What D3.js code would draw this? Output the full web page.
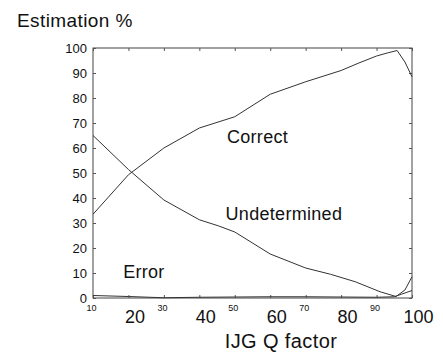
<!DOCTYPE html>
<html>
<head>
<meta charset="utf-8">
<script src="https://cdn.jsdelivr.net/npm/d3@7"></script>
<style>
  body { margin: 0; background: #fff; }
  svg { display: block; font-family: "Liberation Sans", Arial, sans-serif; }
</style>
</head>
<body>
<svg id="chart" width="443" height="354"></svg>
<script>
// values
var xTicks = [10, 20, 30, 40, 50, 60, 70, 80, 90, 100];
var yTicks = [0, 10, 20, 30, 40, 50, 60, 70, 80, 90, 100];

var correctQ = [10, 20, 30, 40, 50, 60, 70, 80, 85, 90, 93, 95.8, 98, 100];
var correctV = [33.5, 49.3, 60, 68, 72.5, 81.5, 86.5, 91, 94, 96.8, 98, 99, 94.4, 88.5];

var undetQ = [10, 20, 30, 40, 45.5, 50, 60, 70, 77, 84, 91, 95.5, 98, 100];
var undetV = [65, 51.4, 39.2, 31.3, 28.8, 26.4, 17.6, 12, 9.5, 6.5, 2.5, 0.6, 3.2, 8.5];

var errorQ = [10, 20, 30, 40, 50, 60, 70, 80, 90, 95, 97, 100];
var errorV = [1, 0.6, 0.1, 0.3, 0.4, 0.5, 0.5, 0.4, 0.3, 0.5, 1.5, 3];

// label name, anchor q, anchor value
var labels = [
  ["Correct", 47.8, 62.2],
  ["Undetermined", 47.4, 31.4],
  ["Error", 18.5, 8]
];

var margin = {top: 48, right: 31, bottom: 56, left: 93};
var width = 443 - margin.left - margin.right;
var height = 354 - margin.top - margin.bottom;

var svg = d3.select("#chart");
var g = svg.append("g")
  .attr("transform", "translate(" + margin.left + "," + margin.top + ")");

var x = d3.scaleLinear().domain([10, 100]).range([0, width]);
var y = d3.scaleLinear().domain([0, 100]).range([height, 0]);

// frame
g.append("rect")
  .attr("x", 0).attr("y", 0)
  .attr("width", width).attr("height", height)
  .attr("fill", "none")
  .attr("stroke", "#444")
  .attr("stroke-width", 1);

// left axis with labels
var yAxis = g.append("g")
  .call(d3.axisLeft(y).tickValues(yTicks).tickSizeInner(-3).tickSizeOuter(0).tickPadding(6));
yAxis.select(".domain").remove();
yAxis.selectAll("line").attr("stroke", "#555");
yAxis.selectAll("text")
  .attr("font-size", "13px")
  .attr("font-family", "Liberation Sans, Arial, sans-serif")
  .attr("fill", "#111");

// right axis, ticks only
var yAxisR = g.append("g")
  .attr("transform", "translate(" + width + ",0)")
  .call(d3.axisRight(y).tickValues(yTicks).tickSizeInner(-3).tickSizeOuter(0).tickFormat(""));
yAxisR.select(".domain").remove();
yAxisR.selectAll("line").attr("stroke", "#555");

// top axis, ticks only
var xAxisT = g.append("g")
  .call(d3.axisTop(x).tickValues(xTicks).tickSizeInner(-3).tickSizeOuter(0).tickFormat(""));
xAxisT.select(".domain").remove();
xAxisT.selectAll("line").attr("stroke", "#555");

// bottom axis: odd decades small and raised, even decades large
var xAxis = g.append("g")
  .attr("transform", "translate(0," + height + ")")
  .call(d3.axisBottom(x).tickValues(xTicks).tickSizeInner(-3).tickSizeOuter(0));
xAxis.select(".domain").remove();
xAxis.selectAll("line").attr("stroke", "#555");
xAxis.selectAll("text")
  .attr("font-family", "Liberation Sans, Arial, sans-serif")
  .attr("fill", "#111")
  .attr("dy", null)
  .attr("font-size", function(d) { return (d / 10) % 2 === 0 ? "18px" : "9px"; })
  .attr("y", function(d) { return (d / 10) % 2 === 0 ? 25 : 13; })
  .attr("dx", function(d) { return (d / 10) % 2 === 0 ? 6 : -2; });

// curves
var line = d3.line()
  .x(function(d) { return x(d[0]); })
  .y(function(d) { return y(d[1]); });

function drawSeries(qs, vs) {
  g.append("path")
    .datum(d3.zip(qs, vs))
    .attr("d", line)
    .attr("fill", "none")
    .attr("stroke", "#333")
    .attr("stroke-width", 1);
}
drawSeries(correctQ, correctV);
drawSeries(undetQ, undetV);
drawSeries(errorQ, errorV);

// in-plot labels
g.selectAll(".curveLabel")
  .data(labels)
  .enter().append("text")
  .attr("class", "curveLabel")
  .attr("x", function(d) { return x(d[1]); })
  .attr("y", function(d) { return y(d[2]); })
  .attr("font-size", "18px")
  .attr("letter-spacing", "0.3px")
  .attr("fill", "#111")
  .text(function(d) { return d[0]; });

// titles
svg.append("text")
  .attr("x", 17)
  .attr("y", 27)
  .attr("font-size", "19px")
  .attr("letter-spacing", "0.4px")
  .attr("fill", "#111")
  .text("Estimation %");

svg.append("text")
  .attr("x", 281)
  .attr("y", 348)
  .attr("text-anchor", "middle")
  .attr("font-size", "20px")
  .attr("letter-spacing", "0.4px")
  .attr("fill", "#111")
  .text("IJG Q factor");
</script>
</body>
</html>
